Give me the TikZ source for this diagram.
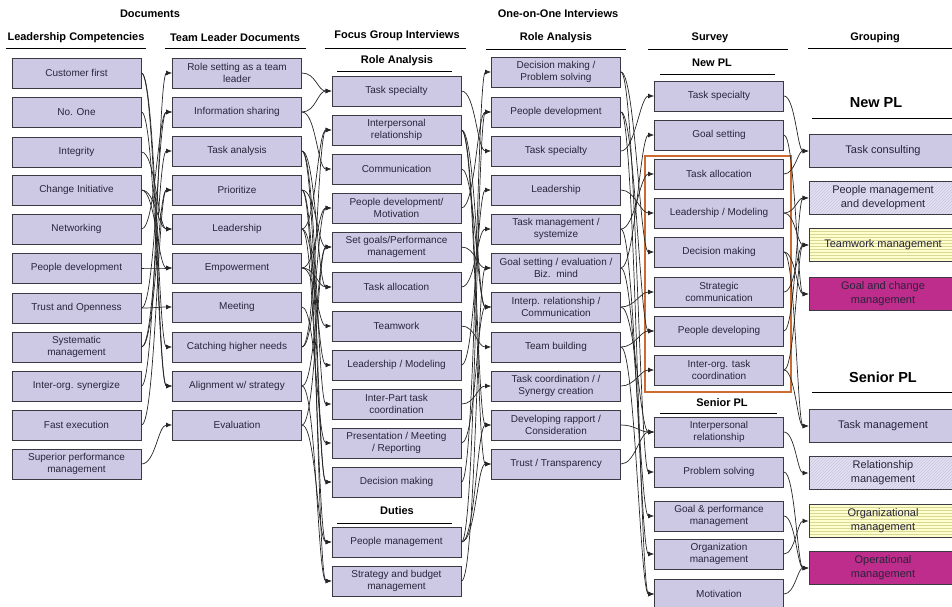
\documentclass[tikz,border=0pt]{standalone}
\usepackage{fontspec}
\setmainfont{Liberation Sans}
\usetikzlibrary{arrows.meta,patterns}

\definecolor{boxfill}{RGB}{205,201,229}
\definecolor{boxline}{RGB}{58,58,66}
\definecolor{boxtext}{RGB}{40,36,58}
\definecolor{hatchbase}{RGB}{228,225,241}
\definecolor{hatchline}{RGB}{200,196,226}
\definecolor{stripebase}{RGB}{255,255,205}
\definecolor{stripeline}{RGB}{215,215,150}
\definecolor{goalmag}{RGB}{190,44,140}
\definecolor{frameorange}{RGB}{204,108,48}

\tikzset{mybox/.style={draw=boxline,fill=boxfill,line width=0.9pt,text=boxtext,
  minimum width=129pt,minimum height=30pt,inner sep=1pt,align=center,
  font=\fontsize{10}{12.5}\selectfont}}
\tikzset{mygroup/.style={mybox,minimum width=148pt,minimum height=33pt,
  font=\fontsize{11}{14}\selectfont}}
\tikzset{myhatch/.style={preaction={fill=hatchbase},pattern=north east lines,pattern color=hatchline}}
\tikzset{mystripe/.style={preaction={fill=stripebase},pattern=horizontal lines,pattern color=stripeline}}
\tikzset{myhead/.style={font=\bfseries\fontsize{11}{13}\selectfont}}
\tikzset{mybig/.style={font=\bfseries\fontsize{14.5}{16}\selectfont}}
\tikzset{mylink/.style={black!85,line width=0.7pt,-{Latex[length=6pt,width=5pt]},
  out=0,in=180,distance=14pt}}
\tikzset{myrule/.style={black,line width=0.8pt}}

\begin{document}
\begin{tikzpicture}[x=1pt,y=-1pt]
	\useasboundingbox (0,0) rectangle (952,607);

	% column headings and their rules
	\node[myhead] (hdoc) at (150,14) {Documents};
	\node[myhead] (hlc) at (76,38) {Leadership Competencies};
	\node[myhead] (htl) at (235,38) {Team Leader Documents};
	\node[myhead] (hfg) at (397,36) {Focus Group Interviews};
	\node[myhead] (hfgra) at (397,61) {Role Analysis};
	\node[myhead] (hduty) at (397,511) {Duties};
	\node[myhead] (hoi) at (558,14) {One-on-One Interviews};
	\node[myhead] (hoira) at (556,38) {Role Analysis};
	\node[myhead] (hsv) at (710,38) {Survey};
	\node[myhead] (hsvnew) at (712,63) {New PL};
	\node[myhead] (hsvsen) at (722,403) {Senior PL};
	\node[myhead] (hgr) at (875,38) {Grouping};
	\node[mybig] (hgrnew) at (876,103) {New PL};
	\node[mybig] (hgrsen) at (883,377) {Senior PL};

	\draw[myrule] (6,48) -- (146,48);
	\draw[myrule] (165,48) -- (306,48);
	\draw[myrule] (325,48) -- (466,48);
	\draw[myrule] (337,71) -- (452,71);
	\draw[myrule] (337,523) -- (452,523);
	\draw[myrule] (486,49) -- (626,49);
	\draw[myrule] (648,49) -- (788,49);
	\draw[myrule] (660,74) -- (775,74);
	\draw[myrule] (660,413) -- (777,413);
	\draw[myrule] (808,48) -- (952,48);
	\draw[myrule] (812,118) -- (952,118);
	\draw[myrule] (812,392) -- (952,392);

	% frame round the core new PL items
	\draw[frameorange,line width=2.4pt] (645,156) rectangle (791,392);

	% leadership competencies
	\node[mybox] (lc1) at (76.5,73) {Customer first};
	\node[mybox] (lc2) at (76.5,112) {No. One};
	\node[mybox] (lc3) at (76.5,152) {Integrity};
	\node[mybox] (lc4) at (76.5,190) {Change Initiative};
	\node[mybox] (lc5) at (76.5,229) {Networking};
	\node[mybox] (lc6) at (76.5,268) {People development};
	\node[mybox] (lc7) at (76.5,308) {Trust and Openness};
	\node[mybox] (lc8) at (76.5,347) {Systematic\\management};
	\node[mybox] (lc9) at (76.5,386) {Inter-org. synergize};
	\node[mybox] (lc10) at (76.5,425) {Fast execution};
	\node[mybox] (lc11) at (76.5,464) {Superior performance\\management};

	% team leader documents
	\node[mybox] (tl1) at (237,73) {Role setting as a team\\leader};
	\node[mybox] (tl2) at (237,112) {Information sharing};
	\node[mybox] (tl3) at (237,151) {Task analysis};
	\node[mybox] (tl4) at (237,190) {Prioritize};
	\node[mybox] (tl5) at (237,229) {Leadership};
	\node[mybox] (tl6) at (237,268) {Empowerment};
	\node[mybox] (tl7) at (237,307) {Meeting};
	\node[mybox] (tl8) at (237,347) {Catching higher needs};
	\node[mybox] (tl9) at (237,386) {Alignment w/ strategy};
	\node[mybox] (tl10) at (237,425) {Evaluation};

	% focus group interviews
	\node[mybox] (fg1) at (396.5,91) {Task specialty};
	\node[mybox] (fg2) at (396.5,130) {Interpersonal\\relationship};
	\node[mybox] (fg3) at (396.5,169) {Communication};
	\node[mybox] (fg4) at (396.5,208) {People development/\\Motivation};
	\node[mybox] (fg5) at (396.5,247) {Set goals/Performance\\management};
	\node[mybox] (fg6) at (396.5,287) {Task allocation};
	\node[mybox] (fg7) at (396.5,326) {Teamwork};
	\node[mybox] (fg8) at (396.5,365) {Leadership / Modeling};
	\node[mybox] (fg9) at (396.5,404) {Inter-Part task\\coordination};
	\node[mybox] (fg10) at (396.5,443) {Presentation / Meeting\\/ Reporting};
	\node[mybox] (fg11) at (396.5,482) {Decision making};
	\node[mybox] (fg12) at (396.5,542) {People management};
	\node[mybox] (fg13) at (396.5,581) {Strategy and budget\\management};

	% one-on-one interviews
	\node[mybox] (oi1) at (556,72) {Decision making /\\Problem solving};
	\node[mybox] (oi2) at (556,112) {People development};
	\node[mybox] (oi3) at (556,151) {Task specialty};
	\node[mybox] (oi4) at (556,190) {Leadership};
	\node[mybox] (oi5) at (556,229) {Task management /\\systemize};
	\node[mybox] (oi6) at (556,268) {Goal setting / evaluation /\\Biz.~~mind};
	\node[mybox] (oi7) at (556,307) {Interp. relationship /\\Communication};
	\node[mybox] (oi8) at (556,347) {Team building};
	\node[mybox] (oi9) at (556,386) {Task coordination / /\\Synergy creation};
	\node[mybox] (oi10) at (556,425) {Developing rapport /\\Consideration};
	\node[mybox] (oi11) at (556,464) {Trust / Transparency};

	% survey
	\node[mybox] (sv1) at (719,96) {Task specialty};
	\node[mybox] (sv2) at (719,135) {Goal setting};
	\node[mybox] (sv3) at (719,174) {Task allocation};
	\node[mybox] (sv4) at (719,213) {Leadership / Modeling};
	\node[mybox] (sv5) at (719,252) {Decision making};
	\node[mybox] (sv6) at (719,292) {Strategic\\communication};
	\node[mybox] (sv7) at (719,331) {People developing};
	\node[mybox] (sv8) at (719,370) {Inter-org. task\\coordination};
	\node[mybox] (sv9) at (719,432) {Interpersonal\\relationship};
	\node[mybox] (sv10) at (719,472) {Problem solving};
	\node[mybox] (sv11) at (719,516) {Goal \& performance\\management};
	\node[mybox] (sv12) at (719,554) {Organization\\management};
	\node[mybox] (sv13) at (719,594) {Motivation};

	% grouping
	\node[mygroup] (gr1) at (883,151) {Task consulting};
	\node[mygroup,myhatch] (gr2) at (883,198) {People management\\and development};
	\node[mygroup,mystripe] (gr3) at (883,245) {Teamwork management};
	\node[mygroup,fill=goalmag] (gr4) at (883,294) {Goal and change\\management};
	\node[mygroup] (gr5) at (883,426) {Task management};
	\node[mygroup,myhatch] (gr6) at (883,473) {Relationship\\management};
	\node[mygroup,mystripe] (gr7) at (883,521) {Organizational\\management};
	\node[mygroup,fill=goalmag] (gr8) at (883,568) {Operational\\management};

	% links between the columns
	\foreach \a/\b in {lc1/tl8,lc1/tl9,lc2/tl9,lc3/tl5,lc4/tl5,lc4/tl6,lc5/tl2,lc6/tl6,
		lc7/tl2,lc7/tl7,lc8/tl3,lc8/tl4,lc9/tl1,lc10/tl4,lc11/tl10}
		\draw[mylink] (\a.east) to (\b.west);
	\foreach \a/\b in {tl1/fg1,tl2/fg1,tl2/fg3,tl3/fg6,tl3/fg9,tl3/fg11,tl4/fg5,tl4/fg11,
		tl4/fg13,tl5/fg2,tl5/fg8,tl5/fg12,tl6/fg4,tl6/fg7,tl6/fg6,tl7/fg10,tl8/fg2,tl8/fg4,
		tl9/fg5,tl9/fg13,tl10/fg5,tl10/fg12}
		\draw[mylink] (\a.east) to (\b.west);
	\foreach \a/\b in {fg1/oi3,fg2/oi7,fg2/oi10,fg2/oi11,fg3/oi7,fg4/oi2,fg5/oi6,fg6/oi5,
		fg7/oi8,fg8/oi4,fg9/oi9,fg10/oi7,fg11/oi1,fg12/oi2,fg12/oi10,fg12/oi11,fg13/oi6}
		\draw[mylink] (\a.east) to (\b.west);
	\foreach \a/\b in {oi1/sv5,oi1/sv10,oi2/sv7,oi2/sv13,oi3/sv1,oi4/sv4,oi5/sv3,oi5/sv12,
		oi6/sv2,oi6/sv11,oi7/sv6,oi7/sv9,oi8/sv7,oi8/sv13,oi9/sv8,oi10/sv9,oi11/sv9}
		\draw[mylink] (\a.east) to (\b.west);
	\foreach \a/\b in {sv1/gr1,sv2/gr4,sv3/gr1,sv4/gr2,sv4/gr3,sv5/gr4,sv5/gr5,sv6/gr3,
		sv7/gr2,sv8/gr3,sv8/gr5,sv9/gr6,sv10/gr8,sv11/gr8,sv12/gr7,sv13/gr8}
		\draw[mylink,distance=11pt] (\a.east) to (\b.west);
\end{tikzpicture}
\end{document}
